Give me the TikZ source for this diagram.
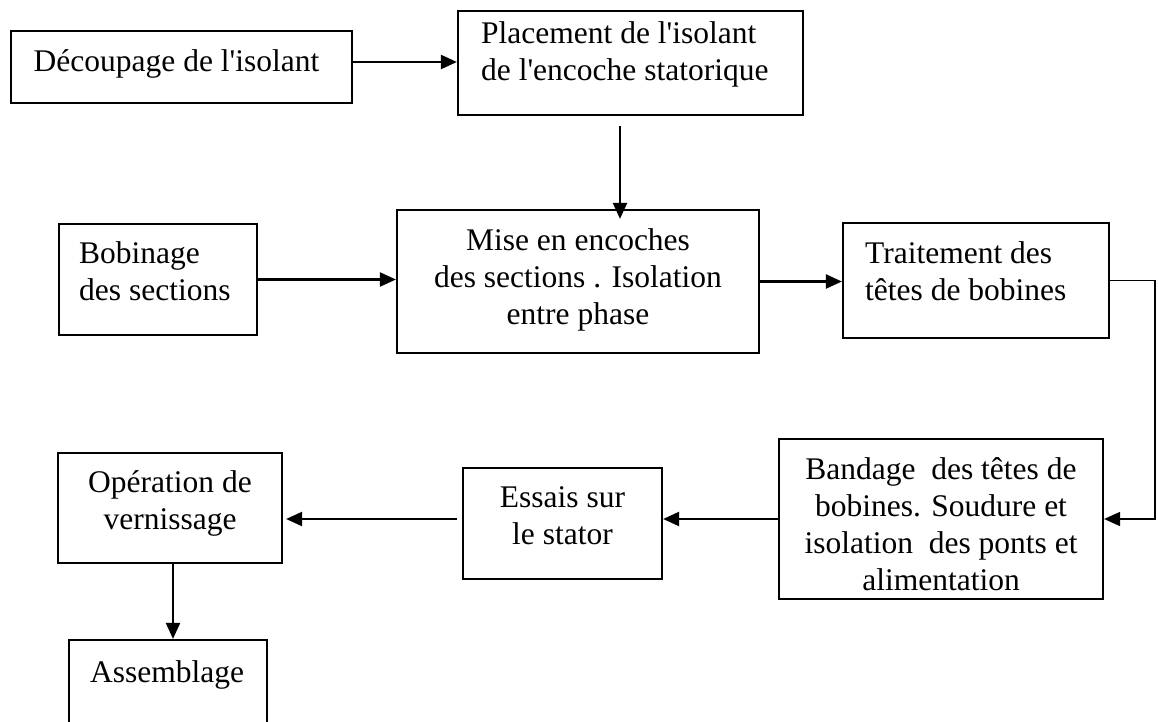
\documentclass[tikz,border=0pt]{standalone}
\usepackage{fontspec}
\setmainfont{Liberation Serif}
\usetikzlibrary{arrows.meta}
\newcommand{\apos}{\textquotesingle}
\begin{document}
\begin{tikzpicture}[x=1pt,y=-1pt,
  box/.style={draw,line width=2.2pt,inner sep=0pt,minimum width=#1},
  lbl/.style={inner sep=0pt,font=\fontsize{31.5}{37}\selectfont},
  arr/.style={line width=2.2pt,-{Triangle[length=16pt,width=14pt]}}]
\clip (0,0) rectangle (1158,722);
\fill[white] (0,0) rectangle (1158,722);

% process boxes
\node[box=341pt,minimum height=72pt]  (b1) at (181.5,67)   {};
\node[box=345pt,minimum height=104pt] (b2) at (630.5,63)   {};
\node[box=362pt,minimum height=143pt] (b3) at (578,281.5)  {};
\node[box=198pt,minimum height=111pt] (b4) at (158,279.5)  {};
\node[box=266pt,minimum height=115pt] (b5) at (976,280.5)  {};
\node[box=324pt,minimum height=160pt] (b6) at (941,519)    {};
\node[box=199pt,minimum height=111pt] (b7) at (562.5,523.5){};
\node[box=224pt,minimum height=110pt] (b8) at (170,508)    {};
\node[box=198pt,minimum height=110pt] (b9) at (168,695)    {};

% box texts
\node[lbl,anchor=base] (t1) at (176.5,72) {Découpage de l\apos isolant};
\node[lbl,anchor=north west,align=left] (t2) at (481,21.5)
  {Placement de l\apos isolant\\de l\apos encoche statorique};
\node[lbl,anchor=north,align=center] (t3) at (578,228.5)
  {Mise en encoches\\des sections . Isolation\\entre phase};
\node[lbl,anchor=north west,align=left] (t4) at (79,241.5)
  {Bobinage\\des sections};
\node[lbl,anchor=north west,align=left] (t5) at (865,241.5)
  {Traitement des\\têtes de bobines};
\node[lbl,anchor=north,align=center] (t6) at (941,457.5)
  {Bandage~~des têtes de\\bobines. Soudure et\\isolation~~des ponts et\\alimentation};
\node[lbl,anchor=north,align=center] (t7) at (562.5,486.5)
  {Essais sur\\le stator};
\node[lbl,anchor=north,align=center] (t8) at (170,470.5)
  {Opération de\\vernissage};
\node[lbl,anchor=base] (t9) at (167,682) {Assemblage};

% connectors
\draw[arr] ([yshift=5pt]b1.east) -- ([yshift=5pt]b1.east -| b2.west);
\draw[arr] ([xshift=-10.5pt,yshift=-10pt]b2.south) -- ([xshift=-10.5pt,yshift=-10pt]b2.south |- b3.north);
\draw[arr] (b4.east) -- (b4.east -| b3.west);
\draw[arr] (b3.east) -- (b3.east -| b5.west);
\draw[line width=1.7pt,-{Triangle[length=16pt,width=14pt]}] (b5.east) -- ++(45,0) |- (b6.east);
\draw[arr] (b6.west) -- (b6.west -| b7.east);
\draw[arr,shorten >=3pt] ([xshift=-5pt]b7.west |- b6.west) -- (b6.west -| b8.east);
\draw[arr] ([xshift=3pt]b8.south) -- ([xshift=3pt]b8.south |- b9.north);
\end{tikzpicture}
\end{document}
